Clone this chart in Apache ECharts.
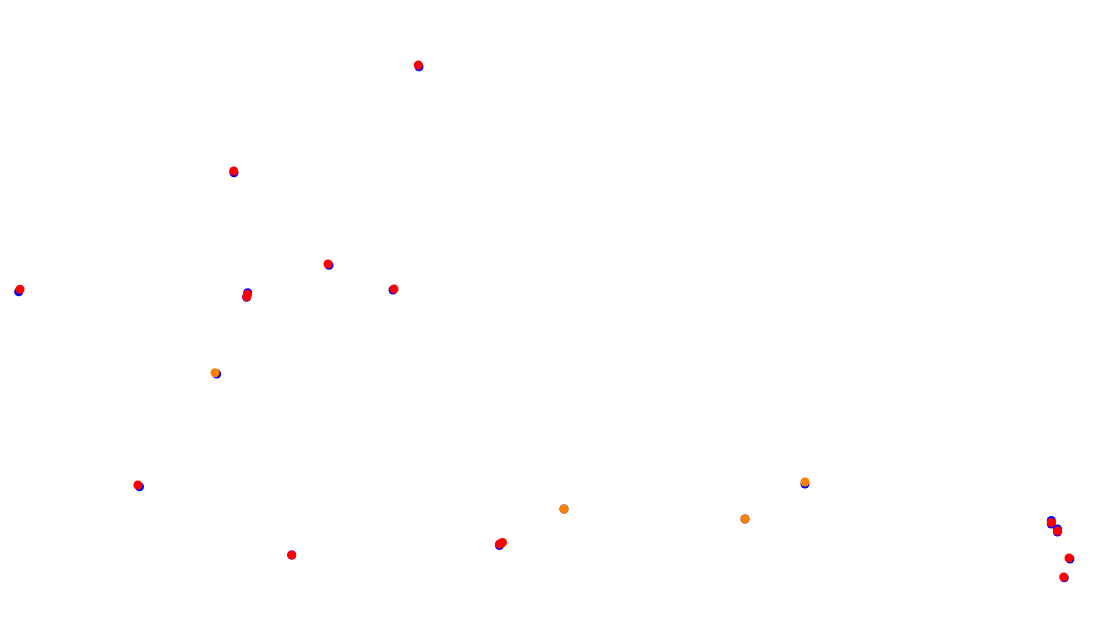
<!DOCTYPE html>
<html>
<head>
<meta charset="utf-8">
<script src="https://cdn.jsdelivr.net/npm/echarts@6/dist/echarts.min.js"></script>
<style>html,body{margin:0;padding:0;background:#fff;}#c{width:1107px;height:635px;}</style>
</head>
<body>
<div id="c"></div>
<script>
// Values in plot units (x: 0..1107, y: 0..635, y increasing upward)
const blueX = [419, 234, 329, 393, 18.7, 247.7, 246.7, 216.7, 139.5, 291.7, 499.5, 805, 1051.3, 1051.3, 1057.5, 1057.5, 1070, 1064.3, 564, 745];
const blueY = [568.3, 462.3, 369.7, 345, 343.3, 342.3, 337.7, 261, 148.3, 80, 89.5, 151, 114.5, 111, 106, 103, 76, 57.3, 126, 116];
const redX = [418.3, 233.7, 328, 394, 20, 247.5, 246.7, 137.9, 291.7, 499.5, 502.5, 1051.3, 1057.7, 1069, 1063.7];
const redY = [570, 464, 371, 346, 345.7, 340.7, 338.3, 150, 80, 91, 92.5, 112.5, 104, 77, 58];
const orangeX = [215, 564, 745, 805];
const orangeY = [262.3, 126, 116, 153];

const zip = (xs, ys) => xs.map((x, i) => [x, ys[i]]);

const chart = echarts.init(document.getElementById('c'));
chart.setOption({
  animation: false,
  backgroundColor: '#ffffff',
  grid: { left: 0, right: 0, top: 0, bottom: 0 },
  xAxis: { type: 'value', min: 0, max: 1107, show: false },
  yAxis: { type: 'value', min: 0, max: 635, show: false },
  series: [
    { type: 'scatter', data: zip(blueX, blueY), symbolSize: 9, itemStyle: { color: '#0000ff', opacity: 1 }, z: 1 },
    { type: 'scatter', data: zip(orangeX, orangeY), symbolSize: 9, itemStyle: { color: '#ff8000', opacity: 1 }, z: 2 },
    { type: 'scatter', data: zip(redX, redY), symbolSize: 9, itemStyle: { color: '#ff0000', opacity: 1 }, z: 3 }
  ]
});
</script>
</body>
</html>
